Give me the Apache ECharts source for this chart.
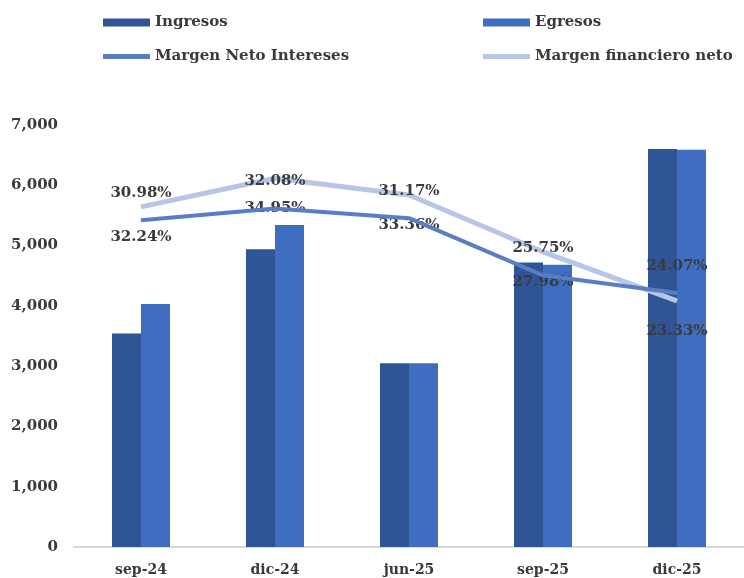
<!DOCTYPE html>
<html>
<head>
<meta charset="utf-8">
<script src="https://cdn.jsdelivr.net/npm/echarts@6/dist/echarts.min.js"></script>
<style>
html,body{margin:0;padding:0;background:#fff;}
#c{width:744px;height:578px;}
</style>
</head>
<body>
<div id="c"></div>
<script>
const categories = ['sep-24', 'dic-24', 'jun-25', 'sep-25', 'dic-25'];
const ingresos = [3540, 4940, 3050, 4720, 6600];
const egresos = [4030, 5340, 3050, 4680, 6590];
const margenNetoIntereses = [30.98, 32.08, 31.17, 25.75, 24.07];
const margenFinancieroNeto = [32.24, 34.95, 33.36, 27.98, 23.33];
const yTicks = [0, 1000, 2000, 3000, 4000, 5000, 6000, 7000];

const FONT = 'DejaVu Serif';
const TXT = '#3a3a3a';
const C_ING = '#2F5597';
const C_EGR = '#3F6DBF';
const C_MNI = '#5A7DC6';
const C_MFN = '#B7C6E6';

function legendAt(name, left, top, h) {
  return {
    data: [name], left: left, top: top, icon: 'rect',
    itemWidth: 47, itemHeight: h, itemGap: 5,
    textStyle: {fontFamily: FONT, fontWeight: 'bold', fontSize: 15, color: TXT},
    selectedMode: false
  };
}

const chart = echarts.init(document.getElementById('c'), null, {renderer: 'canvas'});
chart.setOption({
  backgroundColor: '#fff',
  animation: false,
  legend: [
    legendAt('Ingresos', 98, 10, 8),
    legendAt('Egresos', 478, 10, 8),
    legendAt('Margen Neto Intereses', 98, 44, 5),
    legendAt('Margen financiero neto', 478, 44, 5)
  ],
  grid: {left: 74, top: 125, width: 678, bottom: 31, containLabel: false},
  xAxis: {
    type: 'category', data: categories,
    axisLine: {lineStyle: {color: '#D9D9D9', width: 2}},
    axisTick: {show: false},
    axisLabel: {fontFamily: FONT, fontWeight: 'bold', fontSize: 14, color: TXT, margin: 16}
  },
  yAxis: [{
    type: 'value', min: yTicks[0], max: yTicks[yTicks.length - 1], interval: 1000,
    splitLine: {show: false}, axisLine: {show: false}, axisTick: {show: false},
    axisLabel: {
      fontFamily: FONT, fontWeight: 'bold', fontSize: 15, color: TXT, margin: 16,
      formatter: v => v.toLocaleString('en-US')
    }
  }, {
    type: 'value', min: 0, max: 40, show: false, splitLine: {show: false}
  }],
  series: [
    {name: 'Ingresos', type: 'bar', data: ingresos, barWidth: 29, barGap: '0%',
     itemStyle: {color: C_ING}},
    {name: 'Egresos', type: 'bar', data: egresos, barWidth: 29, barGap: '0%',
     itemStyle: {color: C_EGR}},
    {name: 'Margen financiero neto', type: 'line', yAxisIndex: 1, data: margenFinancieroNeto,
     symbol: 'circle', symbolSize: 1, showSymbol: true,
     lineStyle: {color: C_MFN, width: 5}, itemStyle: {color: C_MFN},
     label: {show: true, position: 'bottom', distance: 22, fontFamily: FONT, fontWeight: 'bold',
             fontSize: 15, color: TXT, formatter: p => p.value.toFixed(2) + '%'}, z: 3},
    {name: 'Margen Neto Intereses', type: 'line', yAxisIndex: 1, data: margenNetoIntereses,
     symbol: 'circle', symbolSize: 1, showSymbol: true,
     lineStyle: {color: C_MNI, width: 4}, itemStyle: {color: C_MNI},
     label: {show: true, position: 'top', distance: 19, fontFamily: FONT, fontWeight: 'bold',
             fontSize: 15, color: TXT, formatter: p => p.value.toFixed(2) + '%'}, z: 4}
  ]
});
</script>
</body>
</html>
